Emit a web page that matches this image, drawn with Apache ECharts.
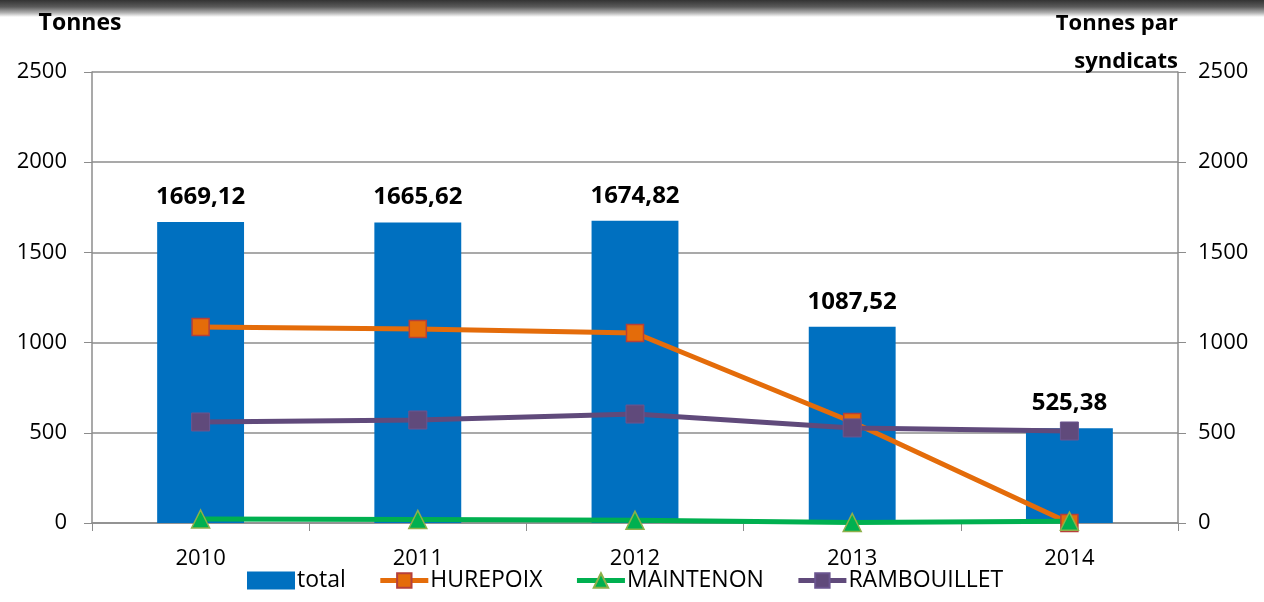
<!DOCTYPE html>
<html>
<head>
<meta charset="utf-8">
<script src="https://cdn.jsdelivr.net/npm/echarts@6/dist/echarts.min.js"></script>
<style>
  html, body { margin: 0; padding: 0; background: #fff; }
  #band { position: absolute; left: 0; top: 0; width: 1264px; height: 17px;
          background: linear-gradient(#333333, #5a5a5a 40%, #b0b0b0 75%, #ffffff); }
  #chart { width: 1264px; height: 602px; }
</style>
</head>
<body>
<div id="band"></div>
<div id="chart"></div>
<script>
// années
const years = ['2010', '2011', '2012', '2013', '2014'];
// tonnages totaux (barres)
const total = [1669.12, 1665.62, 1674.82, 1087.52, 525.38];
// tonnages par syndicat (lignes, axe de droite)
const hurepoix = [1086, 1075, 1053, 560, 0];
const maintenon = [22, 20, 15, 3, 10];
const rambouillet = [560, 571, 604, 527, 510];

const font = 'Open Sans';
const axisColor = '#8c8c8c';
let chart = echarts.init(document.getElementById('chart'));

chart.setOption({
  animation: false,
  textStyle: { fontFamily: font },
  grid: { left: 92, right: 86, top: 72, bottom: 79 },
  legend: {
    bottom: 5,
    left: 242,
    itemGap: 32,
    itemWidth: 48,
    itemHeight: 18,
    textStyle: { fontSize: 23, color: '#000', fontFamily: font, padding: [0, 0, 0, -3] },
    data: [
      { name: 'total', icon: 'rect' },
      { name: 'HUREPOIX', lineStyle: { width: 5 } },
      { name: 'MAINTENON', lineStyle: { width: 5 } },
      { name: 'RAMBOUILLET', lineStyle: { width: 5 } }
    ]
  },
  xAxis: {
    type: 'category',
    data: years,
    axisLine: { lineStyle: { color: axisColor, width: 1.5 } },
    axisTick: { show: true, length: 8, lineStyle: { color: axisColor } },
    axisLabel: { fontSize: 22, color: '#000', margin: 25 }
  },
  yAxis: [
    {
      type: 'value', min: 0, max: 2500, interval: 500,
      name: 'Tonnes',
      nameLocation: 'end',
      nameGap: 37,
      nameTextStyle: { fontSize: 23, fontWeight: 'bold', color: '#000', align: 'center', padding: [0, 0, 0, -24] },
      axisLine: { show: true, lineStyle: { color: axisColor, width: 1.5 } },
      axisTick: { show: true, length: 8, lineStyle: { color: axisColor } },
      axisLabel: { fontSize: 22, color: '#000', margin: 25, formatter: v => String(v) },
      splitLine: { lineStyle: { color: axisColor, width: 1.5 } }
    },
    {
      type: 'value', min: 0, max: 2500, interval: 500,
      position: 'right',
      name: 'Tonnes par\nsyndicats',
      nameLocation: 'end',
      nameGap: -9,
      nameTextStyle: { fontSize: 22, fontWeight: 'bold', color: '#000', align: 'right', lineHeight: 38 },
      axisLine: { show: true, lineStyle: { color: axisColor, width: 1.5 } },
      axisTick: { show: true, length: 8, lineStyle: { color: axisColor } },
      axisLabel: { fontSize: 22, color: '#000', margin: 20, formatter: v => String(v) },
      splitLine: { show: false }
    }
  ],
  series: [
    {
      name: 'total',
      type: 'bar',
      data: total,
      barWidth: '40%',
      itemStyle: { color: '#0070C0' },
      label: {
        show: true, position: 'top', distance: 13,
        fontSize: 24, fontWeight: 'bold', color: '#000',
        formatter: p => p.value.toFixed(2).replace('.', ',')
      }
    },
    {
      name: 'HUREPOIX',
      type: 'line',
      yAxisIndex: 1,
      data: hurepoix,
      symbol: 'rect',
      symbolSize: 17,
      lineStyle: { color: '#E46C0A', width: 5 },
      itemStyle: { color: '#E46C0A', borderColor: '#B6403A', borderWidth: 1.5 }
    },
    {
      name: 'MAINTENON',
      type: 'line',
      yAxisIndex: 1,
      data: maintenon,
      symbol: 'triangle',
      symbolSize: 18,
      lineStyle: { color: '#00B050', width: 5 },
      itemStyle: { color: '#00B050', borderColor: '#8DB04A', borderWidth: 1.5 }
    },
    {
      name: 'RAMBOUILLET',
      type: 'line',
      yAxisIndex: 1,
      data: rambouillet,
      symbol: 'rect',
      symbolSize: 18,
      lineStyle: { color: '#604A7B', width: 5 },
      itemStyle: { color: '#604A7B', borderColor: '#6B5590', borderWidth: 1 }
    }
  ]
});
</script>
</body>
</html>
